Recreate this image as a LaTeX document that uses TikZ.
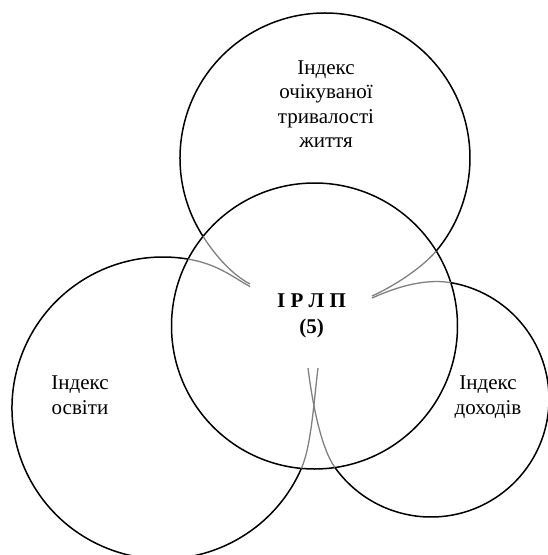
\documentclass[tikz,border=0pt]{standalone}
\usepackage{fontspec}
\setmainfont{Liberation Serif}

\tikzset{
  ring/.style={line width=1.5pt},
  fold/.style={gray,line width=1.3pt},
  idx/.style={align=center,inner sep=0pt,font=\fontsize{21}{24.5}\selectfont}
}

\begin{document}
\begin{tikzpicture}[x=1pt,y=-1pt]
\useasboundingbox (0,0) rectangle (548,555);
% centres of the rings
\coordinate (life) at (325,158);
\coordinate (core) at (314.5,326);
\coordinate (edu) at (163,408);
\coordinate (income) at (431,399);

\draw[ring] (core) circle[radius=143];
\draw[ring] (life) ++(147.3:145) arc[start angle=147.3,end angle=399.9,radius=145];
\draw[ring] (edu) ++(23.6:151) arc[start angle=23.6,end angle=279.6,radius=151];
\draw[ring] (income) ++(279.7:118) arc[start angle=279.7,end angle=504.5,radius=118];

% where the rings meet the core
\path (life) ++(147.3:145) coordinate (lifeL);
\path (life) ++(39.9:145) coordinate (lifeR);
\path (edu) ++(279.6:151) coordinate (eduT);
\path (edu) ++(23.6:151) coordinate (eduB);
\path (income) ++(279.7:118) coordinate (incT);
\path (income) ++(144.5:118) coordinate (incB);
\coordinate (tipA) at (250,284);
\coordinate (tipB) at (250,286.5);
\coordinate (tipC) at (372,296);
\coordinate (tipD) at (372,298);
\coordinate (tipE) at (318,368);
\coordinate (tipF) at (308,368);

\draw[fold] (lifeL) .. controls (216.5,257.4) and (233,275) .. (tipA);
\draw[fold] (eduT) .. controls (217.7,264.1) and (232.6,277) .. (tipB);
\draw[fold] (lifeR) .. controls (420,270) and (390,288) .. (tipC);
\draw[fold] (incT) .. controls (421,277.7) and (390,290) .. (tipD);
\draw[fold] (eduB) .. controls (311.4,445.5) and (314,400) .. (tipE);
\draw[fold] (incB) .. controls (320.4,447.2) and (312,400) .. (tipF);

\node[idx] (lifelabel) at (326,104) {Індекс\\очікуваної\\тривалості\\життя};
\node[idx] (edulabel) at (80,395) {Індекс\\освіти};
\node[idx] (inclabel) at (488,397) {Індекс\\доходів};
\node[idx,font=\fontsize{21}{26}\selectfont\bfseries] (irlp) at (311.5,316) {І Р Л П\\(5)};
\end{tikzpicture}
\end{document}
